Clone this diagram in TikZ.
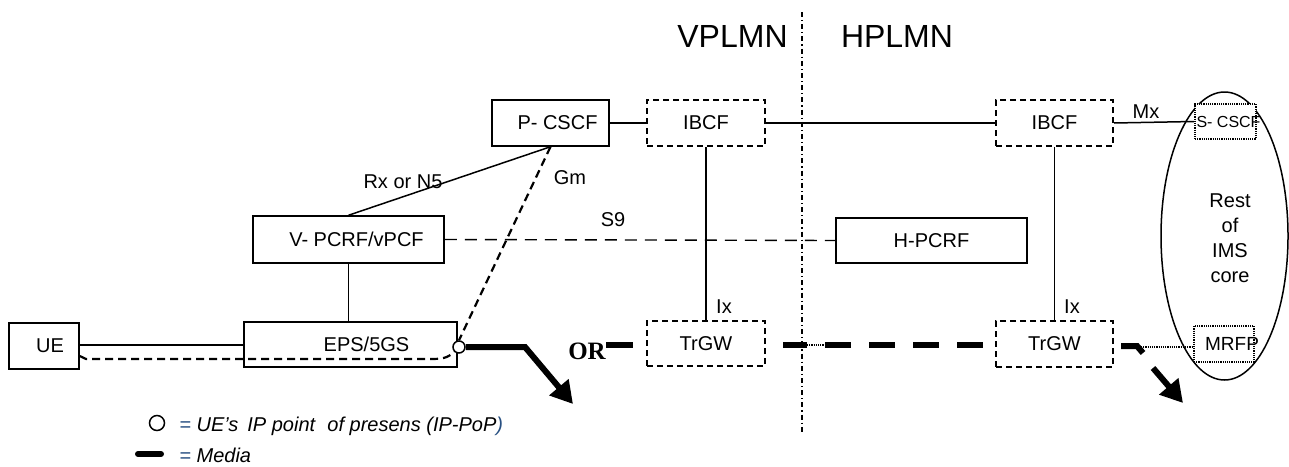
\documentclass[tikz,border=0pt]{standalone}
\usepackage{fontspec}
\setmainfont{Liberation Sans}
\newfontfamily\orfont{Liberation Serif}
\usetikzlibrary{arrows.meta,shapes.geometric}
\definecolor{legblue}{RGB}{40,80,130}
\begin{document}
\begin{tikzpicture}[x=0.5pt,y=-0.5pt,
  font=\fontsize{10}{12}\selectfont,
  solidbox/.style={draw, line width=0.75pt, inner sep=0pt},
  dashbox/.style={draw, line width=1.1pt, dash pattern=on 3pt off 2pt, inner sep=0pt},
  dotbox/.style={draw, line width=1.1pt, dash pattern=on 0.6pt off 0.5pt, inner sep=0pt},
  thin/.style={line width=0.75pt},
  sdash/.style={line width=0.7pt, dash pattern=on 6pt off 4pt},
  gmdash/.style={line width=1.1pt, dash pattern=on 4pt off 2.5pt},
  media/.style={line width=3pt},
  mediaarrow/.style={line width=3pt, -{Triangle[length=11pt,width=12pt]}},
  borderline/.style={line width=1.1pt, dash pattern=on 2.5pt off 1.5pt on 0.6pt off 1.5pt},
  lbl/.style={inner sep=0pt}
]
\useasboundingbox (0,0) rectangle (1289,466);

% network split line and titles
\coordinate (btop) at (802,12);
\coordinate (bbot) at (802,433);
\draw[borderline] (btop) -- (bbot);
\node[lbl, font=\fontsize{16}{18}\selectfont] (vplmn) at (732.5,36) {VPLMN};
\node[lbl, font=\fontsize{16}{18}\selectfont] (hplmn) at (897,36) {HPLMN};

% nodes
\node[solidbox, minimum width=35pt, minimum height=23pt] (ue) at (44,346) {\hspace{6pt}UE};
\node[solidbox, minimum width=106.5pt, minimum height=22.5pt] (eps) at (350.5,344.5) {\hspace{16pt}EPS/5GS};
\node[solidbox, minimum width=58.5pt, minimum height=23pt] (pcscf) at (550.5,123) {\hspace{7pt}P- CSCF};
\node[dashbox, minimum width=59pt, minimum height=23pt] (ibcf1) at (706,123) {IBCF};
\node[dashbox, minimum width=58.5pt, minimum height=23pt] (ibcf2) at (1054.5,123) {IBCF};
\node[solidbox, minimum width=95.5pt, minimum height=23.5pt] (vpcrf) at (348.5,239.5) {\hspace{8pt}V- PCRF/vPCF};
\node[solidbox, minimum width=95.5pt, minimum height=22.5pt] (hpcrf) at (931.5,240.5) {H-PCRF};
\node[dashbox, minimum width=59pt, minimum height=22.5pt] (trgw1) at (706,343.5) {TrGW};
\node[dashbox, minimum width=58.5pt, minimum height=23pt] (trgw2) at (1054.5,344) {TrGW};

% IMS core
\node[draw, ellipse, line width=0.75pt, minimum width=63.5pt, minimum height=144pt, inner sep=0pt] (ims) at (1224.5,236) {};
\node[lbl, align=center, font=\fontsize{10}{12.5}\selectfont] (imstext) at (1230,238) {Rest\\of\\IMS\\core};
\node[dotbox, fill=white, minimum width=30.5pt, minimum height=17.5pt, font=\fontsize{8}{9}\selectfont] (scscf) at (1225.5,121.5) {\makebox[0pt]{\hspace{3pt}S- CSCF}};
\node[dotbox, minimum width=30pt, minimum height=18pt, font=\fontsize{9.5}{11}\selectfont] (mrfp) at (1224,344) {\makebox[0pt]{\hspace{8pt}MRFP}};

% IP PoP circle
\node[draw, circle, line width=0.75pt, fill=white, minimum size=6pt, inner sep=0pt] (pop) at (459,347) {};

% signalling connectors
\draw[thin] (ue.east |- 0,345) -- (eps.west |- 0,345);
\draw[thin] (vpcrf.south) -- (vpcrf.south |- eps.north);
\draw[thin] (vpcrf.north) -- (pcscf.south);
\draw[thin] (pcscf.east) -- (ibcf1.west);
\draw[thin] (ibcf1.east) -- (ibcf2.west);
\draw[thin] (ibcf2.east) -- (scscf.west);
\draw[thin] (ibcf1.south) -- (trgw1.north);
\draw[thin] (ibcf2.south) -- (trgw2.north);
\draw[sdash] (vpcrf.east) -- (hpcrf.west);
\draw[gmdash] (pcscf.south) -- (pop.north);
\draw[gmdash] ([yshift=-5pt]ue.east) -- (86,359) -- (432,359) .. controls (446,359) and (450,356) .. (pop.south west);

% labels
\node[lbl] (rx) at (403,182) {Rx or N5};
\node[lbl] (gm) at (570,178) {Gm};
\node[lbl] (s9) at (613,220) {S9};
\node[lbl] (ix1) at (724,307) {Ix};
\node[lbl] (ix2) at (1072,307) {Ix};
\node[lbl] (mx) at (1146,112) {Mx};

% media
\coordinate (m1) at (525,347);
\coordinate (m1tip) at (573,404);
\draw[media, mediaarrow] (pop.east) -- (m1) -- (m1tip);
\node[lbl, font=\orfont\bfseries\fontsize{12.5}{14}\selectfont] (or) at (587,351) {OR};
\coordinate (orm) at (633,345);
\draw[media] (or.east |- orm) -- (orm);
\coordinate (t1a) at (783,345);
\coordinate (t1b) at (807,345);
\coordinate (t1c) at (825,345);
\coordinate (t1d) at (983,345);
\draw[media] (t1a) -- (t1b);
\draw[line width=1pt, dash pattern=on 0.6pt off 0.5pt] (t1b) -- (t1c);
\draw[media, dash pattern=on 13pt off 9pt] (t1c) -- (t1d);
\coordinate (t2a) at (1121,346);
\coordinate (t2b) at (1137,346);
\coordinate (t2c) at (1143,353);
\draw[media] (t2a) -- (t2b) -- (t2c);
\draw[line width=1pt, dash pattern=on 0.6pt off 0.5pt] (1141,347) -- (mrfp.west |- 0,347);
\coordinate (a2s) at (1153,368);
\coordinate (a2t) at (1183,403);
\draw[mediaarrow] (a2s) -- (a2t);

% legend
\node[draw, circle, line width=0.75pt, minimum size=7.5pt, inner sep=0pt] (legpop) at (157,423) {};
\node[lbl, anchor=west, font=\itshape\fontsize{10}{12}\selectfont] (legpoptext) at (179,426) {{\color{legblue}=} UE's\, IP point\,\, of presens (IP-PoP{\color{legblue})}};
\coordinate (lm1) at (138,454);
\coordinate (lm2) at (161,454);
\draw[line width=3pt, line cap=round] (lm1) -- (lm2);
\node[lbl, anchor=west, font=\itshape\fontsize{10}{12}\selectfont] (legmedia) at (179,455) {{\color{legblue}=} Media};
\end{tikzpicture}
\end{document}
